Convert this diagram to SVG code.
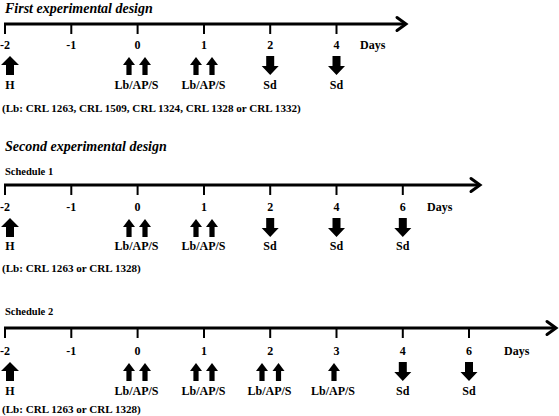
<svg xmlns="http://www.w3.org/2000/svg" xmlns:xlink="http://www.w3.org/1999/xlink" width="559" height="416" viewBox="0 0 559 416">
<style>
text{font-family:"Liberation Serif","Times New Roman",serif;font-weight:bold;fill:#000}
.title{font-size:14px;font-style:italic}
.sm{font-size:12px}
.note{font-size:11.1px}
.sch{font-size:10.5px}
.c{text-anchor:middle}
.axis{stroke:#000;stroke-width:3;fill:none}
.head{stroke:#000;stroke-width:3;fill:none;stroke-linecap:round;stroke-linejoin:miter}
.tick{stroke:#000;stroke-width:2}
</style>
<defs>
<path id="upS" d="M0,0 L6,8 L2.6,8 L2.6,18 L-2.6,18 L-2.6,8 L-6,8 Z" fill="#000"/>
<path id="upB" d="M0,0 L9,9 L4,9 L4,19 L-4,19 L-4,9 L-9,9 Z" fill="#000"/>
<path id="downB" d="M-4,0 L4,0 L4,10 L8.5,10 L0,19 L-8.5,10 L-4,10 Z" fill="#000"/>
</defs>
<rect width="559" height="416" fill="#fff"/>

<!-- Section 1 -->
<text class="title" x="5" y="13">First experimental design</text>
<g id="connectors1">
<line class="axis" x1="4" y1="24" x2="405" y2="24"/>
<polyline class="head" points="397,17.5 406,24 397,30.5"/>
<line class="tick" x1="5" y1="23" x2="5" y2="34"/>
<line class="tick" x1="71.3" y1="23" x2="71.3" y2="34"/>
<line class="tick" x1="137.6" y1="23" x2="137.6" y2="34"/>
<line class="tick" x1="204" y1="23" x2="204" y2="34"/>
<line class="tick" x1="270.2" y1="23" x2="270.2" y2="34"/>
<line class="tick" x1="336.5" y1="23" x2="336.5" y2="34"/>
</g>
<g id="labels1">
<text class="sm c" x="5" y="49">-2</text>
<text class="sm c" x="71.3" y="49">-1</text>
<text class="sm c" x="137.6" y="49">0</text>
<text class="sm c" x="204" y="49">1</text>
<text class="sm c" x="270.2" y="49">2</text>
<text class="sm c" x="336.5" y="49">4</text>
<text class="sm" x="360" y="49">Days</text>
</g>
<g id="s1-H"><use xlink:href="#upB" x="10" y="56"/><text class="sm c" x="10" y="89">H</text></g>
<g id="s1-d0"><use xlink:href="#upS" x="129" y="57"/><use xlink:href="#upS" x="145" y="57"/><text class="sm c" x="136.5" y="89">Lb/AP/S</text></g>
<g id="s1-d1"><use xlink:href="#upS" x="196" y="57"/><use xlink:href="#upS" x="212" y="57"/><text class="sm c" x="203.5" y="89">Lb/AP/S</text></g>
<g id="s1-d2"><use xlink:href="#downB" x="270.2" y="56"/><text class="sm c" x="270" y="89">Sd</text></g>
<g id="s1-d4"><use xlink:href="#downB" x="336.5" y="56"/><text class="sm c" x="336.5" y="89">Sd</text></g>
<text class="note" x="2" y="112">(Lb: CRL 1263, CRL 1509,  CRL 1324, CRL 1328 or CRL 1332)</text>

<!-- Section 2 -->
<text class="title" x="5" y="151">Second experimental design</text>
<text class="sch" x="5" y="175">Schedule 1</text>
<g id="connectors2">
<line class="axis" x1="4" y1="185" x2="478" y2="185"/>
<polyline class="head" points="471,178.5 480,185 471,191.5"/>
<line class="tick" x1="5" y1="184" x2="5" y2="195"/>
<line class="tick" x1="71.3" y1="184" x2="71.3" y2="195"/>
<line class="tick" x1="137.6" y1="184" x2="137.6" y2="195"/>
<line class="tick" x1="204" y1="184" x2="204" y2="195"/>
<line class="tick" x1="270.2" y1="184" x2="270.2" y2="195"/>
<line class="tick" x1="336.5" y1="184" x2="336.5" y2="195"/>
<line class="tick" x1="402.8" y1="184" x2="402.8" y2="195"/>
</g>
<g id="labels2">
<text class="sm c" x="5" y="211">-2</text>
<text class="sm c" x="71.3" y="211">-1</text>
<text class="sm c" x="137.6" y="211">0</text>
<text class="sm c" x="204" y="211">1</text>
<text class="sm c" x="270.2" y="211">2</text>
<text class="sm c" x="336.5" y="211">4</text>
<text class="sm c" x="402.8" y="211">6</text>
<text class="sm" x="427" y="211">Days</text>
</g>
<g id="s2-H"><use xlink:href="#upB" x="10" y="218"/><text class="sm c" x="10" y="250">H</text></g>
<g id="s2-d0"><use xlink:href="#upS" x="129" y="219"/><use xlink:href="#upS" x="145" y="219"/><text class="sm c" x="136.5" y="250">Lb/AP/S</text></g>
<g id="s2-d1"><use xlink:href="#upS" x="196" y="219"/><use xlink:href="#upS" x="212" y="219"/><text class="sm c" x="203.5" y="250">Lb/AP/S</text></g>
<g id="s2-d2"><use xlink:href="#downB" x="270.2" y="218"/><text class="sm c" x="270" y="250">Sd</text></g>
<g id="s2-d4"><use xlink:href="#downB" x="336.5" y="218"/><text class="sm c" x="336.5" y="250">Sd</text></g>
<g id="s2-d6"><use xlink:href="#downB" x="402.8" y="218"/><text class="sm c" x="402.8" y="250">Sd</text></g>
<text class="note" x="2" y="272">(Lb: CRL 1263 or CRL 1328)</text>

<!-- Section 3 -->
<text class="sch" x="5" y="315">Schedule 2</text>
<g id="connectors3">
<line class="axis" x1="4" y1="328" x2="554" y2="328"/>
<polyline class="head" points="547,321.5 556,328 547,334.5"/>
<line class="tick" x1="5" y1="327" x2="5" y2="338"/>
<line class="tick" x1="71.3" y1="327" x2="71.3" y2="338"/>
<line class="tick" x1="137.6" y1="327" x2="137.6" y2="338"/>
<line class="tick" x1="204" y1="327" x2="204" y2="338"/>
<line class="tick" x1="270.2" y1="327" x2="270.2" y2="338"/>
<line class="tick" x1="336.5" y1="327" x2="336.5" y2="338"/>
<line class="tick" x1="402.8" y1="327" x2="402.8" y2="338"/>
<line class="tick" x1="469" y1="327" x2="469" y2="338"/>
</g>
<g id="labels3">
<text class="sm c" x="5" y="355">-2</text>
<text class="sm c" x="71.3" y="355">-1</text>
<text class="sm c" x="137.6" y="355">0</text>
<text class="sm c" x="204" y="355">1</text>
<text class="sm c" x="270.2" y="355">2</text>
<text class="sm c" x="336.5" y="355">3</text>
<text class="sm c" x="402.8" y="355">4</text>
<text class="sm c" x="469" y="355">6</text>
<text class="sm" x="504" y="355">Days</text>
</g>
<g id="s3-H"><use xlink:href="#upB" x="10" y="362"/><text class="sm c" x="10" y="395">H</text></g>
<g id="s3-d0"><use xlink:href="#upS" x="129" y="363"/><use xlink:href="#upS" x="145" y="363"/><text class="sm c" x="136.5" y="395">Lb/AP/S</text></g>
<g id="s3-d1"><use xlink:href="#upS" x="196" y="363"/><use xlink:href="#upS" x="212" y="363"/><text class="sm c" x="203.5" y="395">Lb/AP/S</text></g>
<g id="s3-d2"><use xlink:href="#upS" x="262" y="363"/><use xlink:href="#upS" x="278.5" y="363"/><text class="sm c" x="269.5" y="395">Lb/AP/S</text></g>
<g id="s3-d3"><use xlink:href="#upS" x="334" y="363"/><text class="sm c" x="333" y="395">Lb/AP/S</text></g>
<g id="s3-d4"><use xlink:href="#downB" x="402.8" y="362"/><text class="sm c" x="402.8" y="395">Sd</text></g>
<g id="s3-d6"><use xlink:href="#downB" x="469" y="362"/><text class="sm c" x="469" y="395">Sd</text></g>
<text class="note" x="2" y="413">(Lb: CRL 1263 or CRL 1328)</text>
</svg>
